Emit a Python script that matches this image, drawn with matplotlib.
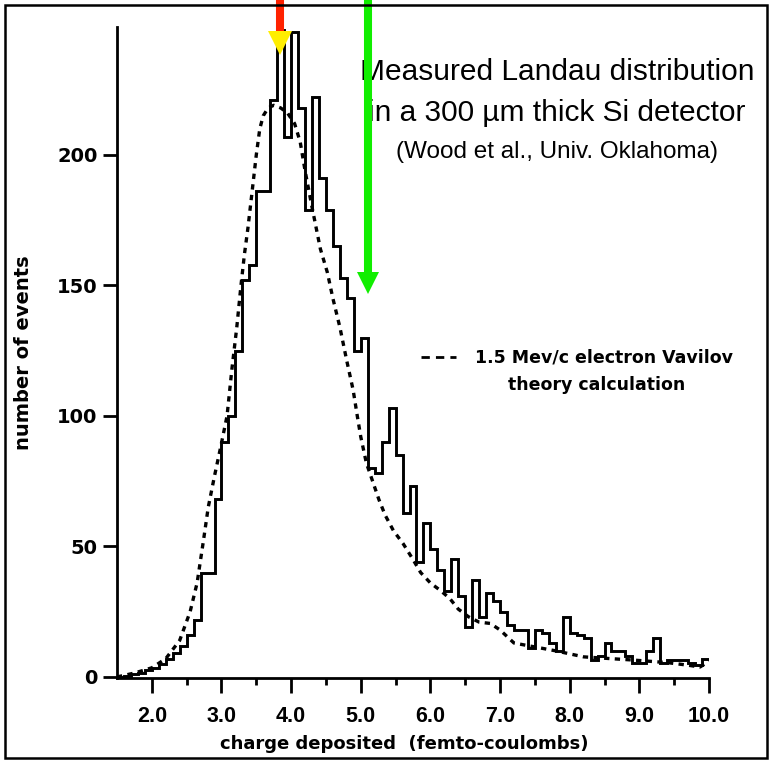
import numpy as np
import matplotlib
matplotlib.use("Agg")
import matplotlib.pyplot as plt
from matplotlib.patches import Rectangle

# ---- data -------------------------------------------------------------
# measured counts per 0.1 fC bin, first bin starts at 1.5 fC
bin_start = 1.5
bin_width = 0.1
measured_counts = [
    0, 0.5, 1, 1.5, 2.5, 3.5, 5, 7, 9, 12,            # 1.5 - 2.4
    16, 22, 40, 40, 68, 90, 100, 125, 152, 158,        # 2.5 - 3.4
    186, 186, 221, 248, 207, 247, 218, 179, 222, 191,  # 3.5 - 4.4
    179, 165, 153, 145, 125, 130, 80, 78, 90, 103,     # 4.5 - 5.4
    85, 63, 73, 44, 59, 49, 41, 33, 45, 31,            # 5.5 - 6.4
    19, 37, 23, 32, 29, 25, 20, 18, 18, 11,            # 6.5 - 7.4
    18, 17, 13, 10, 23, 17, 16, 15, 6.5, 8,            # 7.5 - 8.4
    13, 10, 10, 8, 5.5, 5.5, 10, 15, 5.5, 6.5,         # 8.5 - 9.4
    6.5, 6.5, 5.5, 4.5, 7,                             # 9.5 - 9.9
]

# Vavilov theory curve (charge in fC, events)
theory_charge = [1.5, 1.75, 2.0, 2.2, 2.4, 2.55, 2.65, 2.74, 2.81, 2.9,
                 2.98, 3.08, 3.15, 3.22, 3.28, 3.33, 3.38, 3.44, 3.5, 3.55,
                 3.6, 3.67, 3.75, 3.85, 3.95, 4.05, 4.13, 4.2, 4.3, 4.42,
                 4.52, 4.6, 4.7, 4.8, 4.89, 4.95, 5.0, 5.08, 5.17, 5.26,
                 5.35, 5.47, 5.61, 5.75, 5.86, 6.0, 6.15, 6.28, 6.4, 6.55,
                 6.7, 6.86, 7.0, 7.2, 7.5, 7.8, 8.2, 8.6, 8.9, 9.4,
                 9.7, 9.87, 10.0]
theory_events = [0, 1.5, 3.5, 7, 14, 25, 36, 52, 65, 77,
                 87, 100, 118, 134, 150, 162, 172, 186, 200, 210,
                 215, 218, 219, 218, 216, 212, 205, 194, 180, 164,
                 155, 145, 134, 121, 110, 100, 92, 82, 75, 68,
                 62, 56, 51, 45, 40, 36, 33, 30, 26, 23,
                 21, 20.5, 18, 13, 11.5, 10, 7.7, 7, 6.5, 5.5,
                 4.5, 3.8, 6]

# marked charges: most probable value and mean
most_probable_charge = 3.84
mean_charge = 5.11

x_ticks = [2.0, 3.0, 4.0, 5.0, 6.0, 7.0, 8.0, 9.0, 10.0]
x_tick_labels = ["2.0", "3.0", "4.0", "5.0", "6.0", "7.0", "8.0", "9.0", "10.0"]
x_minor_ticks = [2.5, 3.5, 4.5, 5.5, 6.5, 7.5, 8.5, 9.5]
y_ticks = [0, 50, 100, 150, 200]
y_tick_labels = ["0", "50", "100", "150", "200"]

# ---- figure -----------------------------------------------------------
W, H = 771, 762
fig = plt.figure(figsize=(W / 100, H / 100), dpi=100)
fig.patch.set_facecolor("white")

ax_l, ax_r, ax_t, ax_b = 117, 709, 27, 678
ax = fig.add_axes([ax_l / W, 1 - ax_b / H, (ax_r - ax_l) / W, (ax_b - ax_t) / H])
ax.patch.set_visible(False)

edges = bin_start + bin_width * np.arange(len(measured_counts) + 1)
ax.stairs(measured_counts, edges, baseline=None, color="black", lw=2.1, zorder=3)
ax.plot(theory_charge, theory_events, color="black", lw=2.4,
        dashes=(1.6, 1.6), zorder=2)

ax.set_xlim(1.5, 10.0)
ax.set_ylim(-0.4, 249)

for side in ("top", "right"):
    ax.spines[side].set_visible(False)
for side in ("left", "bottom"):
    ax.spines[side].set_linewidth(2.0)

ax.set_xticks(x_ticks, x_tick_labels, fontfamily="Liberation Sans",
              fontweight="bold", fontsize=15.5)
ax.set_xticks(x_minor_ticks, minor=True)
ax.set_yticks(y_ticks, y_tick_labels, fontfamily="DejaVu Sans",
              fontweight="bold", fontsize=14)
ax.tick_params(axis="x", which="major", direction="out", length=11,
               width=2.0, pad=9)
ax.tick_params(axis="x", which="minor", direction="out", length=5, width=2.0)
ax.tick_params(axis="y", which="major", direction="out", length=10,
               width=2.0, pad=4)

ax.set_xlabel("charge deposited  (femto-coulombs)", fontfamily="DejaVu Sans",
              fontweight="bold", fontsize=13, va="center")
ax.xaxis.set_label_coords((404 - ax_l) / (ax_r - ax_l), (ax_b - 744) / (ax_b - ax_t))
ax.set_ylabel("number of events", fontfamily="DejaVu Sans",
              fontweight="bold", fontsize=14, va="center")
ax.yaxis.set_label_coords((24 - ax_l) / (ax_r - ax_l), 0.5)

# title block
tx = 557 / W
ax.text(tx, 1 - 72 / H, "Measured Landau distribution", transform=fig.transFigure,
        ha="center", va="center", fontsize=21.5, fontfamily="Liberation Sans", zorder=2)
ax.text(tx, 1 - 113 / H, "in a 300 \u00b5m thick Si detector", transform=fig.transFigure,
        ha="center", va="center", fontsize=21.5, fontfamily="Liberation Sans", zorder=2)
ax.text(tx, 1 - 152 / H, "(Wood et al., Univ. Oklahoma)", transform=fig.transFigure,
        ha="center", va="center", fontsize=17.5, fontfamily="Liberation Sans", zorder=2)

# legend for the theory curve
def ax_frac(px, py):
    return (px - ax_l) / (ax_r - ax_l), (ax_b - py) / (ax_b - ax_t)

lx0, ly = ax_frac(421, 357)
lx1, _ = ax_frac(456, 357)
ax.plot([lx0, lx1], [ly, ly], transform=ax.transAxes, color="black", lw=2.0,
        dashes=(3.0, 2.2), clip_on=False)
tx1, _ = ax_frac(475, 357)
ax.text(tx1, ly, "1.5 Mev/c electron Vavilov", transform=ax.transAxes,
        ha="left", va="center", fontsize=12.5, fontfamily="DejaVu Sans",
        fontweight="bold")
tx2, ly2 = ax_frac(508, 385)
ax.text(tx2, ly2, "theory calculation", transform=ax.transAxes,
        ha="left", va="center", fontsize=12.5, fontfamily="DejaVu Sans",
        fontweight="bold")

# arrows marking most probable value and mean
xt = ax.get_xaxis_transform()
top = 1.06
ax.plot([most_probable_charge] * 2, [top, ax_frac(0, 36)[1]], transform=xt,
        color="#ff2200", lw=5.8, solid_capstyle="butt", clip_on=False, zorder=10)
ax.plot([most_probable_charge], [ax_frac(0, 43)[1]], transform=xt, marker="v",
        ms=17, color="#ffee00", mec="#ffee00", mew=0, clip_on=False, zorder=11)
ax.plot([mean_charge] * 2, [top, ax_frac(0, 276)[1]], transform=xt,
        color="#11ee00", lw=5.8, solid_capstyle="butt", clip_on=False, zorder=10)
ax.plot([mean_charge], [ax_frac(0, 283)[1]], transform=xt, marker="v",
        ms=16.5, color="#11ee00", mec="#11ee00", mew=0, clip_on=False, zorder=11)

# page frame
fig.patches.append(Rectangle((5 / W, 1 - 758 / H), (767 - 5) / W, (758 - 5) / H,
                             transform=fig.transFigure, fill=False,
                             lw=1.8, ec="black"))

fig.savefig("out.png", dpi=100, facecolor="white")
